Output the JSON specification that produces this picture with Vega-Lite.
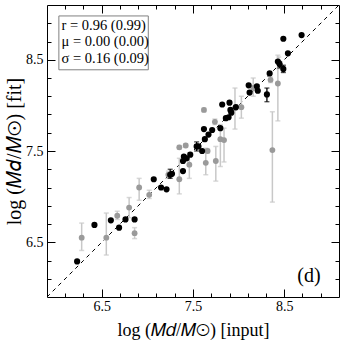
{
  "$schema": "https://vega.github.io/schema/vega-lite/v6.json",
  "width": 292,
  "height": 292,
  "autosize": "none",
  "padding": {"left": 47, "top": 5, "right": 5, "bottom": 43},
  "background": "white",
  "config": {
    "view": {"stroke": "black", "strokeWidth": 1},
    "font": "Liberation Serif",
    "axis": {
      "domain": false,
      "grid": false,
      "tickColor": "black",
      "tickWidth": 1,
      "labelFont": "Liberation Serif",
      "labelFontSize": 14,
      "labelColor": "black",
      "labelOverlap": false,
      "labelFlush": false,
      "titleFont": "Liberation Serif",
      "titleFontSize": 18,
      "titleFontWeight": "normal",
      "titleColor": "black"
    }
  },
  "datasets": {
    "pts": [
      {"g": "k", "x": 6.23, "y": 6.29},
      {"g": "k", "x": 6.42, "y": 6.69},
      {"g": "k", "x": 6.60, "y": 6.74},
      {"g": "k", "x": 6.69, "y": 6.66},
      {"g": "k", "x": 6.76, "y": 6.75},
      {"g": "k", "x": 6.86, "y": 6.75},
      {"g": "k", "x": 7.07, "y": 7.19},
      {"g": "k", "x": 7.15, "y": 7.10},
      {"g": "k", "x": 7.21, "y": 7.08},
      {"g": "k", "x": 7.25, "y": 7.24, "lo": 7.20, "hi": 7.30},
      {"g": "k", "x": 7.27, "y": 7.25},
      {"g": "k", "x": 7.39, "y": 7.28},
      {"g": "k", "x": 7.39, "y": 7.39},
      {"g": "k", "x": 7.40, "y": 7.44},
      {"g": "k", "x": 7.43, "y": 7.42},
      {"g": "k", "x": 7.47, "y": 7.46},
      {"g": "k", "x": 7.54, "y": 7.55, "lo": 7.50, "hi": 7.60},
      {"g": "k", "x": 7.56, "y": 7.55},
      {"g": "k", "x": 7.60, "y": 7.50},
      {"g": "k", "x": 7.62, "y": 7.74},
      {"g": "k", "x": 7.63, "y": 7.63},
      {"g": "k", "x": 7.67, "y": 7.68},
      {"g": "k", "x": 7.71, "y": 7.73},
      {"g": "k", "x": 7.80, "y": 7.75},
      {"g": "k", "x": 7.82, "y": 8.01},
      {"g": "k", "x": 7.86, "y": 7.86},
      {"g": "k", "x": 7.89, "y": 7.87},
      {"g": "k", "x": 7.90, "y": 8.03},
      {"g": "k", "x": 7.91, "y": 7.95},
      {"g": "k", "x": 7.92, "y": 7.92},
      {"g": "k", "x": 7.97, "y": 7.98},
      {"g": "k", "x": 8.11, "y": 8.22},
      {"g": "k", "x": 8.12, "y": 8.14},
      {"g": "k", "x": 8.20, "y": 8.21},
      {"g": "k", "x": 8.21, "y": 8.16},
      {"g": "k", "x": 8.31, "y": 8.12, "lo": 8.04, "hi": 8.19},
      {"g": "k", "x": 8.34, "y": 8.35},
      {"g": "k", "x": 8.43, "y": 8.48},
      {"g": "k", "x": 8.45, "y": 8.45, "lo": 8.41, "hi": 8.48},
      {"g": "k", "x": 8.49, "y": 8.40, "lo": 8.36, "hi": 8.44},
      {"g": "k", "x": 8.49, "y": 8.73},
      {"g": "k", "x": 8.54, "y": 8.57},
      {"g": "k", "x": 8.69, "y": 8.77},
      {"g": "s", "x": 6.28, "y": 6.55, "lo": 6.41, "hi": 6.71},
      {"g": "s", "x": 6.55, "y": 6.55, "lo": 6.36, "hi": 6.82},
      {"g": "s", "x": 6.67, "y": 6.79, "lo": 6.75, "hi": 6.84},
      {"g": "s", "x": 6.80, "y": 6.88, "lo": 6.77, "hi": 6.99},
      {"g": "s", "x": 6.86, "y": 6.60, "lo": 6.54, "hi": 6.66},
      {"g": "s", "x": 6.91, "y": 7.10, "lo": 6.96, "hi": 7.20},
      {"g": "s", "x": 7.02, "y": 7.02, "lo": 6.98, "hi": 7.07},
      {"g": "s", "x": 7.23, "y": 7.24, "lo": 7.20, "hi": 7.28},
      {"g": "s", "x": 7.35, "y": 7.19, "lo": 7.03, "hi": 7.42},
      {"g": "s", "x": 7.35, "y": 7.54, "lo": 7.52, "hi": 7.56},
      {"g": "s", "x": 7.42, "y": 7.56, "lo": 7.54, "hi": 7.58},
      {"g": "s", "x": 7.46, "y": 7.35, "lo": 7.20, "hi": 7.48},
      {"g": "s", "x": 7.62, "y": 7.95, "lo": 7.93, "hi": 7.97},
      {"g": "s", "x": 7.64, "y": 7.37, "lo": 7.24, "hi": 7.53},
      {"g": "s", "x": 7.66, "y": 7.50, "lo": 7.48, "hi": 7.52},
      {"g": "s", "x": 7.74, "y": 7.82, "lo": 7.79, "hi": 7.85},
      {"g": "s", "x": 7.75, "y": 7.39, "lo": 7.17, "hi": 7.55},
      {"g": "s", "x": 7.80, "y": 7.63, "lo": 7.33, "hi": 7.79},
      {"g": "s", "x": 7.84, "y": 7.62, "lo": 7.38, "hi": 7.75},
      {"g": "s", "x": 7.96, "y": 7.97, "lo": 7.74, "hi": 8.19},
      {"g": "s", "x": 8.03, "y": 7.98, "lo": 7.86, "hi": 8.10},
      {"g": "s", "x": 8.16, "y": 8.19, "lo": 8.10, "hi": 8.30},
      {"g": "s", "x": 8.35, "y": 8.28, "lo": 8.25, "hi": 8.31},
      {"g": "s", "x": 8.37, "y": 7.51, "lo": 6.94, "hi": 7.93},
      {"g": "s", "x": 8.43, "y": 8.24, "lo": 7.83, "hi": 8.55},
      {"g": "s", "x": 8.44, "y": 8.47, "lo": 8.40, "hi": 8.53}
    ]
  },
  "layer": [
    {
      "data": {"values": [{}]},
      "mark": {"type": "rule", "color": "black", "strokeWidth": 1, "strokeDash": [4, 4]},
      "encoding": {
        "x": {"datum": 5.9, "type": "quantitative", "scale": {"domain": [5.9, 9.1], "nice": false, "zero": false}, "axis": null},
        "y": {"datum": 5.9, "type": "quantitative", "scale": {"domain": [5.9, 9.1], "nice": false, "zero": false}, "axis": null},
        "x2": {"datum": 9.1},
        "y2": {"datum": 9.1}
      }
    },
    {
      "data": {"name": "pts"},
      "transform": [{"filter": "datum.g == 's'"}],
      "mark": {"type": "errorbar", "color": "#c8c8c8", "thickness": 1.5, "ticks": {"size": 5, "thickness": 1.5, "color": "#c8c8c8"}},
      "encoding": {
        "x": {"field": "x", "type": "quantitative", "axis": null},
        "y": {"field": "lo", "type": "quantitative", "axis": null},
        "y2": {"field": "hi"}
      }
    },
    {
      "data": {"name": "pts"},
      "transform": [{"filter": "datum.g == 's'"}],
      "mark": {"type": "point", "filled": true, "color": "#9a9a9a", "opacity": 1, "size": 34},
      "encoding": {
        "x": {"field": "x", "type": "quantitative",
          "axis": {"orient": "top", "title": null, "labels": false,
            "values": [6.1, 6.3, 6.5, 6.7, 6.9, 7.1, 7.3, 7.5, 7.7, 7.9, 8.1, 8.3, 8.5, 8.7, 8.9],
            "tickSize": {"condition": {"test": "datum.value == 6.5 || datum.value == 7.5 || datum.value == 8.5", "value": -8}, "value": -4}}},
        "y": {"field": "y", "type": "quantitative",
          "axis": {"orient": "right", "title": null, "labels": false,
            "values": [6.1, 6.3, 6.5, 6.7, 6.9, 7.1, 7.3, 7.5, 7.7, 7.9, 8.1, 8.3, 8.5, 8.7, 8.9],
            "tickSize": {"condition": {"test": "datum.value == 6.5 || datum.value == 7.5 || datum.value == 8.5", "value": -8}, "value": -4}}}
      }
    },
    {
      "data": {"name": "pts"},
      "transform": [{"filter": "datum.g == 'k' && isValid(datum.lo)"}],
      "mark": {"type": "errorbar", "color": "black", "thickness": 1.3, "ticks": {"size": 5, "thickness": 1.3, "color": "black"}},
      "encoding": {
        "x": {"field": "x", "type": "quantitative", "axis": null},
        "y": {"field": "lo", "type": "quantitative", "axis": null},
        "y2": {"field": "hi"}
      }
    },
    {
      "data": {"name": "pts"},
      "transform": [{"filter": "datum.g == 'k'"}],
      "mark": {"type": "point", "filled": true, "color": "black", "opacity": 1, "size": 38},
      "encoding": {
        "x": {"field": "x", "type": "quantitative",
          "axis": {"orient": "bottom", "title": "log (𝑀𝑑/𝑀⊙) [input]", "titlePadding": 4,
            "values": [6.1, 6.3, 6.5, 6.7, 6.9, 7.1, 7.3, 7.5, 7.7, 7.9, 8.1, 8.3, 8.5, 8.7, 8.9],
            "labelExpr": "datum.value == 6.5 || datum.value == 7.5 || datum.value == 8.5 ? datum.label : ''",
            "labelPadding": 10,
            "tickSize": {"condition": {"test": "datum.value == 6.5 || datum.value == 7.5 || datum.value == 8.5", "value": -8}, "value": -4}}},
        "y": {"field": "y", "type": "quantitative",
          "axis": {"orient": "left", "title": "log (𝑀𝑑/𝑀⊙) [fit]", "titlePadding": 1, "titleFontSize": 20,
            "values": [6.1, 6.3, 6.5, 6.7, 6.9, 7.1, 7.3, 7.5, 7.7, 7.9, 8.1, 8.3, 8.5, 8.7, 8.9],
            "labelExpr": "datum.value == 6.5 || datum.value == 7.5 || datum.value == 8.5 ? datum.label : ''",
            "labelPadding": 12,
            "tickSize": {"condition": {"test": "datum.value == 6.5 || datum.value == 7.5 || datum.value == 8.5", "value": -8}, "value": -4}}}
      }
    },
    {
      "data": {"values": [{}]},
      "mark": {"type": "rect", "fill": "white", "stroke": "#808080", "strokeWidth": 1},
      "encoding": {
        "x": {"datum": 6.03, "type": "quantitative", "axis": null},
        "x2": {"datum": 7.01},
        "y": {"datum": 8.39, "type": "quantitative", "axis": null},
        "y2": {"datum": 8.98}
      }
    },
    {
      "data": {"values": [{}]},
      "mark": {"type": "text", "align": "left", "baseline": "top", "font": "Liberation Serif", "fontSize": 14.5, "lineHeight": 16.5, "color": "black",
        "text": ["r = 0.96 (0.99)", "μ = 0.00 (0.00)", "σ = 0.16 (0.09)"]},
      "encoding": {
        "x": {"datum": 6.06, "type": "quantitative", "axis": null},
        "y": {"datum": 8.95, "type": "quantitative", "axis": null}
      }
    },
    {
      "data": {"values": [{}]},
      "mark": {"type": "text", "align": "center", "baseline": "middle", "font": "Liberation Serif", "fontSize": 20, "color": "black", "text": "(d)"},
      "encoding": {
        "x": {"datum": 8.77, "type": "quantitative", "axis": null},
        "y": {"datum": 6.13, "type": "quantitative", "axis": null}
      }
    }
  ],
  "resolve": {"axis": {"x": "independent", "y": "independent"}}
}
